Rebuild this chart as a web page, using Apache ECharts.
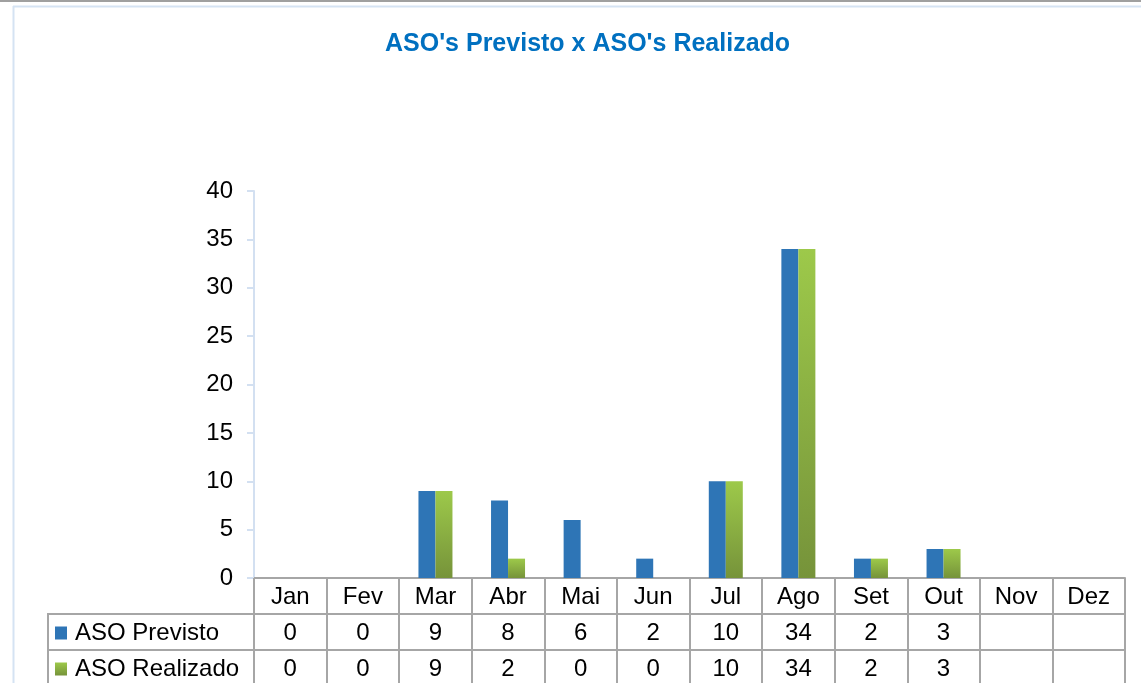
<!DOCTYPE html>
<html>
<head>
<meta charset="utf-8">
<script src="https://cdn.jsdelivr.net/npm/echarts@6/dist/echarts.min.js"></script>
<style>
html,body{margin:0;padding:0;background:#fff;}
#chart{width:1141px;height:683px;}
</style>
</head>
<body>
<div id="chart"></div>
<script>
const months = ['Jan','Fev','Mar','Abr','Mai','Jun','Jul','Ago','Set','Out','Nov','Dez'];
const previsto = [0,0,9,8,6,2,10,34,2,3,null,null];
const realizado = [0,0,9,2,0,0,10,34,2,3,null,null];
const seriesNames = ['ASO Previsto','ASO Realizado'];
const yTicks = {min:0, max:40, interval:5};

const FONT = '"Liberation Sans", Arial, sans-serif';
const TABLE_LINE = '#A6A6A6';
const FS = 24;
const fmt = v => (v === null || v === undefined) ? '' : String(v);

const chart = echarts.init(document.getElementById('chart'));
const greenGrad = new echarts.graphic.LinearGradient(0,0,0,1,[
  {offset:0,color:'#9DC94A'},{offset:1,color:'#76933A'}
]);

function tableAxis(offset, formatter){
  return {
    type:'category', data:months, position:'bottom', offset:offset,
    boundaryGap:true,
    axisLine:{show:true, lineStyle:{color:TABLE_LINE, width:2}},
    axisTick:{show:true, alignWithLabel:false, interval:0, length:36, lineStyle:{color:TABLE_LINE, width:2}},
    axisLabel:{show:true, interval:0, margin:7, color:'#000', fontSize:FS, fontFamily:FONT,
      formatter:formatter},
    splitLine:{show:false}
  };
}

function legendFor(name, top){
  return {
    orient:'horizontal', left:50, top:top,
    itemWidth:12, itemHeight:13, icon:'rect',
    textStyle:{fontSize:FS, color:'#000', fontFamily:FONT, lineHeight:24, padding:[0,0,0,3]},
    data:[name]
  };
}

chart.setOption({
  animation:false,
  title:{
    text:"ASO's Previsto x ASO's Realizado",
    left:380, top:27,
    textStyle:{color:'#0070C0', fontSize:25, fontWeight:'bold', fontFamily:FONT}
  },
  legend:[ legendFor(seriesNames[0], 616), legendFor(seriesNames[1], 652) ],
  grid:{left:254, right:16, top:191, bottom:105, containLabel:false},
  xAxis:[
    tableAxis(0, (v,i)=>v),
    tableAxis(36, (v,i)=>fmt(previsto[i])),
    tableAxis(72, (v,i)=>fmt(realizado[i]))
  ],
  yAxis:{
    type:'value', min:yTicks.min, max:yTicks.max, interval:yTicks.interval,
    axisLine:{show:true, lineStyle:{color:'#D3E0F1', width:2}},
    axisTick:{show:true, length:7, lineStyle:{color:'#D3E0F1', width:2}},
    axisLabel:{margin:21, color:'#000', fontSize:FS, fontFamily:FONT},
    splitLine:{show:false}
  },
  series:[
    {name:seriesNames[0], type:'bar', xAxisIndex:0, data:previsto,
      barWidth:17, barGap:'0%',
      itemStyle:{color:'#2E75B6'}},
    {name:seriesNames[1], type:'bar', xAxisIndex:0, data:realizado,
      barWidth:17, barGap:'0%',
      itemStyle:{color:greenGrad}}
  ],
  graphic:[
    {type:'line', shape:{x1:0,y1:1,x2:1141,y2:1}, style:{stroke:'#A0A0A0', lineWidth:2}, silent:true},
    {type:'line', shape:{x1:13,y1:6.5,x2:1141,y2:6.5}, style:{stroke:'#D5E3F3', lineWidth:2}, silent:true},
    {type:'line', shape:{x1:13.5,y1:6,x2:13.5,y2:683}, style:{stroke:'#D5E3F3', lineWidth:2}, silent:true},
    {type:'line', shape:{x1:48,y1:614,x2:254,y2:614}, style:{stroke:TABLE_LINE, lineWidth:2}, silent:true},
    {type:'line', shape:{x1:48,y1:650,x2:254,y2:650}, style:{stroke:TABLE_LINE, lineWidth:2}, silent:true},
    {type:'line', shape:{x1:48,y1:613,x2:48,y2:683}, style:{stroke:TABLE_LINE, lineWidth:2}, silent:true}
  ]
});
</script>
</body>
</html>
